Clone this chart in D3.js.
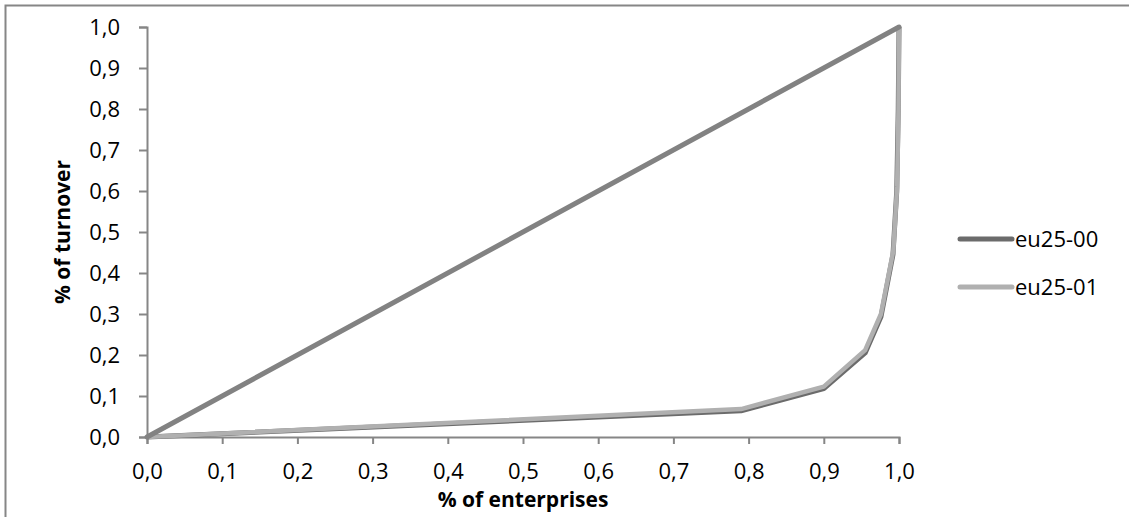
<!DOCTYPE html>
<html><head><meta charset="utf-8">
<script src="https://cdn.jsdelivr.net/npm/d3@7"></script>
<style>body{margin:0;background:#fff}svg{display:block}</style>
</head><body>
<script>
const seriesNames = ["eu25-00", "eu25-01"];
const eu2500 = [[0,0],[0.79,0.064],[0.90,0.118],[0.955,0.205],[0.976,0.293],[0.992,0.445],[0.997,0.6],[0.999,0.8],[1,1]];
const eu2501 = [[0,0],[0.79,0.068],[0.90,0.123],[0.955,0.212],[0.976,0.300],[0.9925,0.455],[0.9975,0.61],[0.9993,0.8],[1,1]];
const equality = [[0,0],[1,1]];
const xTicks = [0,0.1,0.2,0.3,0.4,0.5,0.6,0.7,0.8,0.9,1.0];
const yTicks = [0,0.1,0.2,0.3,0.4,0.5,0.6,0.7,0.8,0.9,1.0];
const colors = ["#6b6b6b", "#b0b0b0"];

const W = 1129, H = 517;
const svg = d3.select("body").append("svg").attr("width", W).attr("height", H);
const font = "'Open Sans', sans-serif";

// outer frame (top and left visible)
svg.append("rect").attr("x",5.5).attr("y",5.5).attr("width",W).attr("height",H)
  .attr("fill","none").attr("stroke","#868686").attr("stroke-width",2);

const x = d3.scaleLinear().domain([0,1]).range([147,899]);
const y = d3.scaleLinear().domain([0,1]).range([437,27]);
const fmt = d => d.toFixed(1).replace(".", ",");

const gx = svg.append("g").attr("transform","translate(0,437)")
  .call(d3.axisBottom(x).tickValues(xTicks).tickFormat(fmt).tickSize(7).tickPadding(19));
const gy = svg.append("g").attr("transform","translate(147,0)")
  .call(d3.axisLeft(y).tickValues(yTicks).tickFormat(fmt).tickSize(8).tickPadding(19));
[gx,gy].forEach(g=>{
  g.select(".domain").attr("stroke","#868686").attr("stroke-width",2);
  g.selectAll(".tick line").attr("stroke","#868686").attr("stroke-width",2);
  g.selectAll(".tick text").attr("fill","#000").style("font-family",font).style("font-size","22px");
});

const line = d3.line().x(d=>x(d[0])).y(d=>y(d[1]));
svg.append("path").datum(eu2500).attr("d",line).attr("fill","none")
  .attr("stroke",colors[0]).attr("stroke-width",5).attr("stroke-linejoin","round");
svg.append("path").datum(eu2501).attr("d",line).attr("fill","none")
  .attr("stroke",colors[1]).attr("stroke-width",4.5).attr("stroke-linejoin","round");
svg.append("path").datum(equality).attr("d",line).attr("fill","none")
  .attr("stroke","#828282").attr("stroke-width",5).attr("stroke-linecap","round");

// axis titles
svg.append("text").attr("x",(x(0)+x(1))/2).attr("y",507).attr("text-anchor","middle")
  .style("font-family",font).style("font-size","21px").style("font-weight","bold").text("% of enterprises");
svg.append("text").attr("transform",`translate(70,${(y(0)+y(1))/2}) rotate(-90)`).attr("text-anchor","middle")
  .style("font-family",font).style("font-size","21px").style("font-weight","bold").text("% of turnover");

// legend
const lg = svg.append("g");
seriesNames.forEach((n,i)=>{
  const yy = 239 + i*48;
  lg.append("line").attr("x1",960).attr("x2",1012).attr("y1",yy).attr("y2",yy)
    .attr("stroke",colors[i]).attr("stroke-width",5).attr("stroke-linecap","round");
  lg.append("text").attr("x",1015).attr("y",yy).attr("dy","0.35em")
    .style("font-family",font).style("font-size","22px").text(n);
});
</script>
</body></html>
